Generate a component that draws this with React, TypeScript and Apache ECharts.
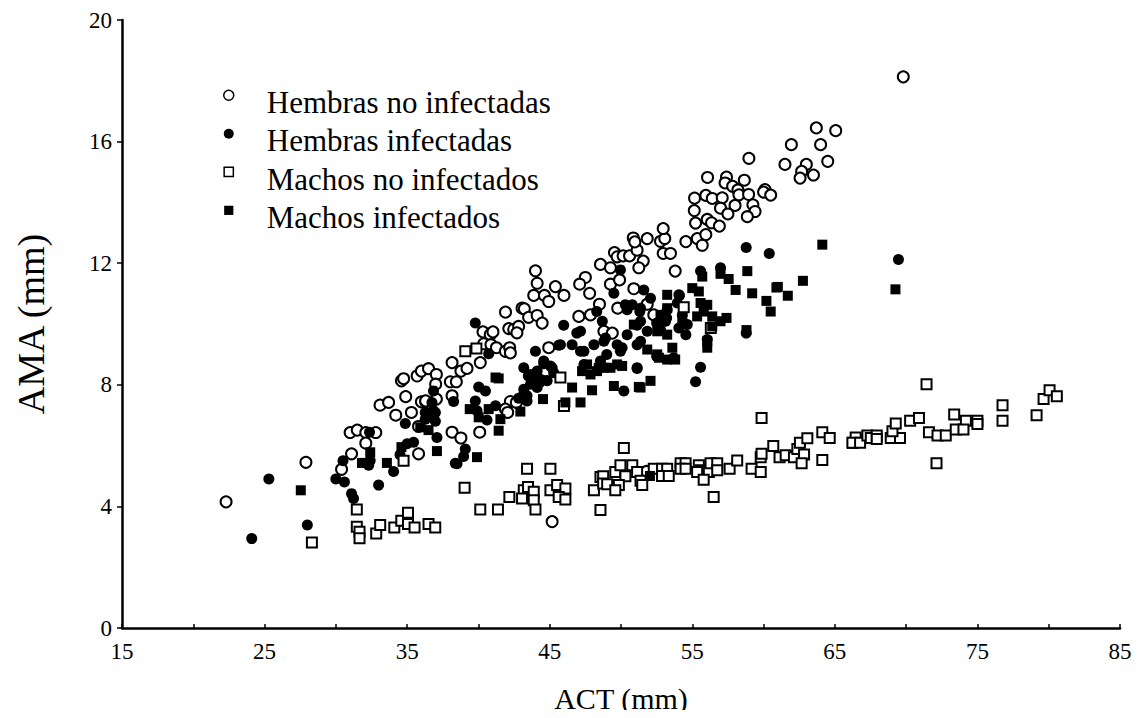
import React, { useEffect, useRef } from "react";
import * as echarts from "echarts";

const seriesNames = [
  "Hembras no infectadas",
  "Hembras infectadas",
  "Machos no infectados",
  "Machos infectados",
];

const xTicks = [15, 25, 35, 45, 55, 65, 75, 85];
const yTicks = [0, 4, 8, 12, 16, 20];

const hembrasNoInfectadas: number[][] = [
  [22.3, 4.15], [27.9, 5.45], [30.4, 5.22], [31.1, 5.73], [31.0, 6.43], [31.5, 6.51], [32.1, 6.43], [32.8, 6.43],
  [32.1, 6.08], [33.1, 7.33], [33.7, 7.42], [34.2, 7.0], [35.3, 7.09], [34.9, 7.61], [34.6, 8.13], [34.75, 8.2],
  [35.7, 8.29], [36.0, 8.45], [36.5, 8.53], [36.0, 7.44], [36.3, 7.44], [35.8, 6.63], [35.8, 5.73], [37.05, 8.34],
  [37.0, 8.02], [36.3, 7.47], [37.05, 7.53], [38.15, 8.73], [38.77, 8.45], [39.2, 8.54], [40.13, 8.73], [38.03, 8.1],
  [38.45, 8.1], [38.15, 7.64], [42.24, 7.45], [42.66, 7.42], [41.89, 7.2], [42.05, 7.09], [38.15, 6.44], [38.77, 6.25],
  [40.09, 6.44], [44.0, 11.75], [44.12, 11.34], [43.88, 10.94], [44.63, 10.94], [44.93, 10.74], [45.4, 11.23], [41.9, 10.39],
  [43.06, 10.52], [43.22, 10.5], [43.52, 10.22], [44.12, 10.28], [44.47, 10.03], [42.13, 9.85], [42.47, 9.82], [42.82, 9.92],
  [42.7, 9.71], [40.32, 9.74], [40.83, 9.65], [41.02, 9.74], [40.37, 9.35], [40.88, 9.32], [41.26, 9.22], [41.89, 9.1],
  [42.19, 9.22], [42.24, 9.05], [44.93, 9.22], [46.0, 10.94], [47.5, 11.53], [47.1, 11.31], [47.8, 11.01], [49.26, 11.31],
  [50.9, 11.16], [48.49, 10.65], [47.04, 10.25], [47.86, 10.3], [49.77, 10.52], [52.3, 10.3], [48.8, 9.76], [49.39, 9.7],
  [48.56, 11.96], [49.26, 11.85], [49.54, 12.35], [49.73, 12.21], [50.15, 12.24], [50.6, 12.24], [51.13, 12.43], [51.56, 12.07],
  [51.25, 11.85], [49.9, 11.45], [50.86, 12.83], [50.97, 12.7], [51.84, 12.81], [52.77, 12.72], [53.07, 12.81], [52.96, 13.14],
  [52.96, 12.32], [53.47, 12.32], [53.8, 11.74], [51.84, 10.65], [54.55, 12.71], [55.35, 12.81], [55.95, 12.94], [55.7, 12.59],
  [55.16, 14.14], [55.95, 14.23], [56.4, 14.13], [57.1, 14.15], [56.98, 13.81], [58.0, 13.9], [55.14, 13.73], [57.5, 13.62],
  [55.23, 13.32], [56.05, 13.44], [56.35, 13.33], [56.9, 13.22], [56.07, 14.82], [57.4, 14.83], [57.3, 14.64], [57.83, 14.53],
  [58.65, 14.73], [58.2, 14.41], [58.27, 14.25], [58.95, 14.26], [60.1, 14.42], [60.0, 14.34], [60.5, 14.24], [59.25, 13.92],
  [59.4, 13.7], [58.86, 13.53], [58.97, 15.45], [61.95, 15.9], [63.7, 16.45], [65.06, 16.36], [64.0, 15.9], [61.5, 15.25],
  [63.0, 15.25], [62.67, 15.02], [64.5, 15.35], [63.5, 14.9], [62.56, 14.8], [69.8, 18.13], [45.17, 3.5], [51.8, 5.15],
];

const hembrasInfectadas: number[][] = [
  [24.1, 2.94], [25.3, 4.9], [28.0, 3.39], [30.5, 5.5], [30.0, 4.9], [30.6, 4.8], [31.1, 4.42], [31.24, 4.26],
  [32.36, 6.44], [32.3, 5.35], [32.41, 5.51], [33.0, 4.7], [34.05, 5.15], [34.5, 5.7], [34.87, 6.73], [35.0, 6.06],
  [35.45, 6.11], [36.27, 7.09], [38.38, 5.42], [38.96, 5.64], [39.08, 5.89], [39.78, 10.03], [40.72, 9.02], [44.0, 9.1],
  [45.63, 9.3], [43.18, 8.56], [43.65, 8.34], [44.12, 8.24], [44.58, 8.69], [45.17, 8.56], [43.65, 8.02], [43.18, 7.85],
  [43.41, 7.64], [36.85, 7.8], [36.74, 7.42], [36.85, 7.15], [40.02, 7.93], [40.49, 7.8], [41.2, 7.31], [39.78, 7.47],
  [39.9, 7.15], [38.26, 7.45], [36.98, 7.09], [36.27, 6.87], [36.98, 6.8], [37.09, 6.27], [40.6, 6.84], [42.82, 7.56],
  [45.98, 9.96], [47.16, 9.76], [45.75, 9.32], [46.57, 9.32], [48.3, 10.41], [49.5, 11.01], [50.3, 10.63], [51.37, 10.52],
  [52.07, 10.85], [51.37, 10.09], [51.84, 9.76], [50.43, 9.65], [49.73, 9.32], [48.8, 9.43], [48.1, 9.32], [47.4, 9.1],
  [49.0, 9.0], [49.96, 9.1], [51.13, 9.32], [47.4, 8.67], [48.56, 8.78], [44.58, 8.78], [51.13, 8.56], [50.2, 7.8],
  [49.96, 11.78], [51.6, 11.12], [53.24, 10.47], [54.06, 10.96], [48.69, 10.09], [48.91, 9.54], [50.79, 10.63], [51.32, 10.41],
  [50.43, 10.47], [52.66, 9.81], [53.12, 10.09], [54.06, 9.87], [54.65, 9.98], [51.13, 9.96], [50.08, 9.22], [51.37, 9.43],
  [53.95, 10.69], [54.3, 10.3], [53.2, 10.2], [52.5, 10.03], [52.77, 9.81], [52.5, 8.94], [53.7, 8.89], [54.55, 9.65],
  [56.05, 9.49], [55.58, 8.58], [55.23, 8.1], [51.13, 8.54], [55.58, 11.74], [56.98, 11.85], [58.78, 12.52], [60.4, 12.32],
  [69.46, 12.12], [58.78, 9.7], [54.1, 10.94], [46.9, 9.7], [47.16, 9.1], [43.5, 8.29], [44.12, 8.45], [45.05, 8.62],
  [45.28, 8.4], [44.35, 8.18], [44.82, 8.13], [44.12, 7.91], [43.18, 7.69], [43.41, 7.47], [38.5, 5.4],
];

const machosNoInfectados: number[][] = [
  [28.32, 2.81], [31.47, 3.9], [31.47, 3.33], [31.66, 3.17], [31.66, 2.95], [32.83, 3.11], [33.11, 3.39], [34.1, 3.31],
  [34.59, 3.53], [35.06, 3.79], [35.06, 3.42], [35.52, 3.31], [36.5, 3.42], [36.97, 3.31], [34.75, 5.5], [39.03, 4.61],
  [40.13, 3.9], [41.37, 3.9], [42.17, 4.31], [43.41, 5.24], [45.05, 5.24], [43.18, 4.53], [43.06, 4.26], [43.48, 4.64],
  [43.88, 4.48], [43.88, 4.2], [44.0, 3.9], [45.05, 4.53], [45.52, 4.7], [46.1, 4.59], [45.63, 4.31], [46.1, 4.23],
  [48.1, 4.53], [48.56, 4.97], [48.56, 3.88], [39.08, 9.1], [39.86, 9.19], [45.75, 8.24], [46.0, 7.3], [54.4, 10.55],
  [56.3, 9.87], [59.86, 6.91], [50.2, 5.92], [48.75, 4.99], [48.75, 4.75], [49.03, 4.73], [49.6, 5.13], [49.96, 5.35],
  [50.31, 4.99], [49.85, 4.7], [49.6, 4.53], [50.79, 5.35], [51.13, 5.13], [51.37, 4.84], [51.49, 4.7], [52.3, 5.24],
  [52.88, 5.24], [53.24, 5.24], [52.88, 5.0], [53.35, 5.0], [54.18, 5.42], [54.53, 5.42], [54.18, 5.24], [54.53, 5.24],
  [55.46, 5.35], [55.58, 5.19], [55.34, 5.13], [56.16, 5.13], [55.8, 4.88], [56.28, 5.42], [56.75, 5.42], [56.75, 5.19],
  [56.5, 4.31], [57.62, 5.24], [58.15, 5.51], [59.16, 5.24], [59.8, 5.13], [59.8, 5.62], [59.86, 5.73], [60.68, 5.99],
  [61.12, 5.62], [61.55, 5.68], [62.13, 5.62], [62.37, 5.89], [62.55, 6.09], [63.07, 6.24], [62.84, 5.71], [62.67, 5.42],
  [64.12, 6.44], [64.64, 6.25], [64.12, 5.53], [66.28, 6.09], [66.58, 6.17], [71.43, 8.02], [66.46, 6.27], [66.23, 6.09],
  [66.77, 6.09], [67.28, 6.33], [67.52, 6.25], [67.94, 6.33], [67.94, 6.22], [68.92, 6.25], [69.57, 6.25], [69.04, 6.47],
  [69.27, 6.73], [70.28, 6.82], [70.9, 6.91], [71.6, 6.44], [72.2, 6.33], [72.78, 6.33], [72.13, 5.42], [73.37, 7.02],
  [74.19, 6.82], [73.48, 6.53], [74.02, 6.53], [75.0, 6.82], [75.0, 6.71], [76.76, 7.33], [76.76, 6.82], [79.15, 7.0],
  [79.64, 7.53], [80.06, 7.82], [80.57, 7.62],
];

const machosInfectados: number[][] = [
  [27.54, 4.53], [32.41, 5.78], [31.83, 5.43], [32.18, 5.43], [33.58, 5.43], [34.6, 5.95], [37.09, 5.82], [39.9, 5.62],
  [41.42, 8.21], [44.53, 7.53], [42.94, 7.12], [39.39, 7.2], [40.02, 6.93], [41.54, 6.87], [41.42, 6.49], [40.72, 7.2],
  [36.39, 6.93], [35.92, 6.6], [36.5, 6.51], [44.24, 8.1], [53.24, 10.96], [53.24, 10.52], [50.9, 9.98], [52.54, 9.76],
  [53.24, 9.65], [53.6, 9.22], [52.54, 9.0], [53.24, 8.83], [49.73, 8.67], [49.26, 8.56], [48.44, 8.56], [47.62, 8.67],
  [47.27, 8.45], [47.86, 8.34], [50.08, 8.62], [46.57, 7.91], [47.97, 7.82], [49.5, 7.96], [51.25, 7.93], [52.07, 8.13],
  [44.58, 8.15], [55.0, 11.18], [56.05, 10.63], [55.8, 10.41], [55.34, 10.25], [57.4, 10.2], [56.98, 10.09], [58.04, 11.12],
  [58.86, 11.74], [59.2, 11.01], [56.4, 9.92], [56.05, 9.43], [56.05, 9.22], [54.3, 10.14], [52.77, 10.3], [53.8, 8.83],
  [52.66, 8.89], [51.84, 9.16], [51.37, 7.91], [47.16, 7.42], [46.1, 7.42], [48.32, 8.45], [48.8, 8.56], [55.7, 11.56],
  [56.98, 11.65], [57.55, 11.48], [60.2, 10.76], [60.5, 10.41], [60.9, 11.2], [55.46, 11.07], [55.58, 10.69], [56.4, 10.25],
  [58.8, 9.8], [64.12, 12.61], [61.0, 11.22], [62.76, 11.42], [61.7, 10.93], [69.25, 11.14], [52.03, 5.0], [41.2, 8.24],
];

const font = "'Liberation Serif', 'Times New Roman', serif";

// legend icons: marker drawn in the upper part of a taller box, so it sits above the text centre
const circleIcon = "path://M5,24M10,5A5,5,0,1,1,0,5A5,5,0,1,1,10,5Z";
const squareIcon = "path://M5,24M0.5,0.5L9.5,0.5L9.5,9.5L0.5,9.5Z";

export default function App() {
  const ref = useRef<HTMLDivElement>(null);
  useEffect(() => {
    if (!ref.current) return;
    const chart = echarts.init(ref.current, undefined, { renderer: "svg" });
    const open = { color: "#ffffff", borderColor: "#000000", borderWidth: 2, opacity: 1 };
    const filled = { color: "#000000", borderColor: "#000000", borderWidth: 0, opacity: 1 };
    const mk = (name: string, data: number[][], symbol: string, size: number, style: any) => ({
      name,
      type: "scatter",
      data,
      symbol,
      symbolSize: size,
      itemStyle: style,
      emphasis: { disabled: true },
    });
    chart.setOption({
      animation: false,
      backgroundColor: "#ffffff",
      textStyle: { fontFamily: font, color: "#000" },
      grid: { left: 122, right: 24, top: 20, bottom: 86, containLabel: false },
      legend: {
        orient: "vertical",
        left: 218,
        top: 78,
        itemWidth: 10,
        itemHeight: 24,
        itemGap: 0,
        symbolKeepAspect: true,
        data: seriesNames.map((n, i) => ({
          name: n,
          icon: i < 2 ? circleIcon : squareIcon,
          itemStyle: i % 2 === 0
            ? { color: "#fff", borderColor: "#000", borderWidth: 1.5 }
            : { color: "#000", borderColor: "#000", borderWidth: 0 },
        })),
        textStyle: {
          fontFamily: font,
          fontSize: 31,
          lineHeight: 38.5,
          color: "#000",
          padding: [0, 0, 0, 28],
        },
      },
      xAxis: {
        type: "value",
        min: 15,
        max: 85,
        interval: 5,
        name: "ACT (mm)",
        nameLocation: "middle",
        nameGap: 55,
        nameTextStyle: { fontFamily: font, fontSize: 30, color: "#000" },
        axisLine: { show: true, onZero: false, lineStyle: { color: "#000", width: 2.5 } },
        axisTick: { show: true, inside: true, length: 4, lineStyle: { color: "#000", width: 1.5 } },
        axisLabel: {
          fontFamily: font,
          fontSize: 23,
          color: "#000",
          margin: 12,
          formatter: (v: number) => (xTicks.includes(v) ? String(v) : ""),
        },
        splitLine: { show: false },
      },
      yAxis: {
        type: "value",
        min: 0,
        max: 20,
        interval: 4,
        name: "AMA (mm)",
        nameLocation: "middle",
        nameGap: 72,
        nameTextStyle: { fontFamily: font, fontSize: 38, color: "#000" },
        axisLine: { show: true, onZero: false, lineStyle: { color: "#000", width: 2.5 } },
        axisTick: { show: true, inside: false, length: 5, lineStyle: { color: "#000", width: 1.5 } },
        axisLabel: {
          fontFamily: font,
          fontSize: 23,
          color: "#000",
          margin: 10,
          formatter: (v: number) => (yTicks.includes(v) ? String(v) : ""),
        },
        splitLine: { show: false },
      },
      series: [
        mk(seriesNames[0], hembrasNoInfectadas, "circle", 11, open),
        mk(seriesNames[1], hembrasInfectadas, "circle", 11, filled),
        mk(seriesNames[2], machosNoInfectados, "rect", 10, open),
        mk(seriesNames[3], machosInfectados, "rect", 10, filled),
      ],
    });
    return () => chart.dispose();
  }, []);
  return <div ref={ref} style={{ width: 1144, height: 718, margin: -8 }} />;
}
